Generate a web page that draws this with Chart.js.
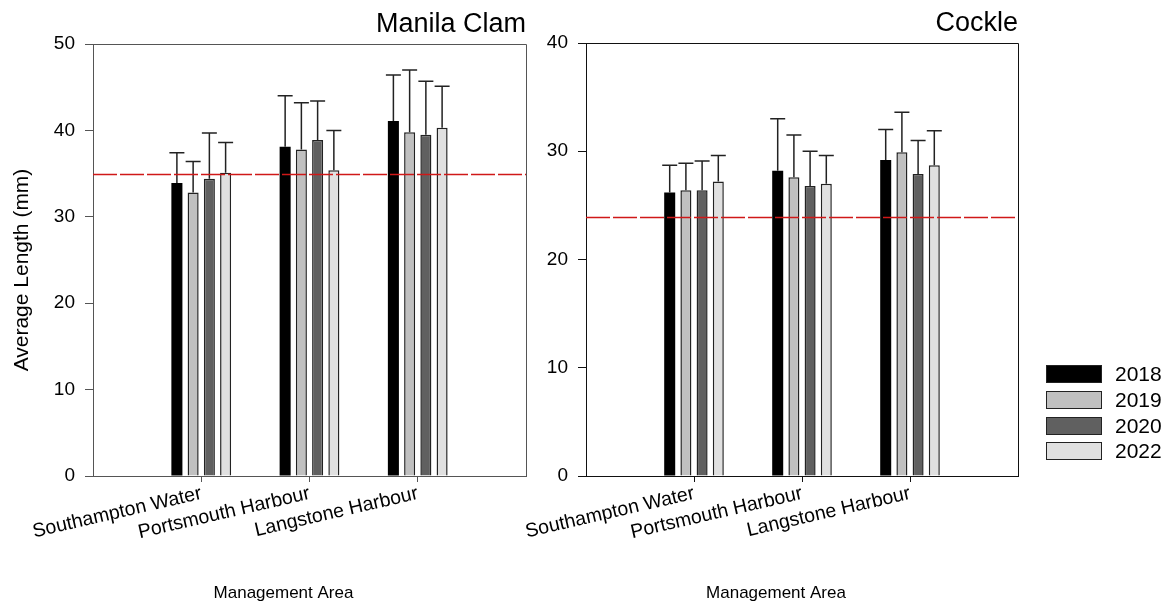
<!DOCTYPE html>
<html>
<head>
<meta charset="utf-8">
<title>Average Length by Management Area</title>
<script src="https://cdn.jsdelivr.net/npm/chart.js@4.4.1/dist/chart.umd.min.js"></script>
<style>
  html, body { margin: 0; padding: 0; background: #ffffff; }
  #wrap { position: relative; width: 1173px; height: 610px; overflow: hidden; background: #ffffff; }
  canvas { position: absolute; top: 0; }
  #clam { left: 0; }
  #cockle { left: 480px; }
</style>
</head>
<body>
<div id="wrap">
  <canvas id="clam" width="540" height="610"></canvas>
  <canvas id="cockle" width="693" height="610"></canvas>
</div>
<script>
// ---- data ----
const sites = ['Southampton Water', 'Portsmouth Harbour', 'Langstone Harbour'];
const years = ['2018', '2019', '2020', '2022'];
const yearFills = ['#000000', '#c0c0c0', '#606060', '#e0e0e0'];

// Manila clam: mean length (mm) and SD per site
const clam2018 = [33.9, 38.1, 41.1];
const clam2019 = [32.8, 37.8, 39.8];
const clam2020 = [34.4, 38.9, 39.5];
const clam2022 = [35.1, 35.4, 40.3];
const clamSd2018 = [3.5, 5.9, 5.3];
const clamSd2019 = [3.6, 5.4, 7.2];
const clamSd2020 = [5.3, 4.5, 6.2];
const clamSd2022 = [3.5, 4.6, 4.8];
const clamMinSize = 35;
const clamTicks = [0, 10, 20, 30, 40, 50];

// Cockle: mean length (mm) and SD per site
const cockle2018 = [26.2, 28.2, 29.2];
const cockle2019 = [26.4, 27.6, 29.9];
const cockle2020 = [26.4, 26.8, 27.9];
const cockle2022 = [27.2, 27.0, 28.7];
const cockleSd2018 = [2.5, 4.8, 2.8];
const cockleSd2019 = [2.5, 3.9, 3.7];
const cockleSd2020 = [2.7, 3.2, 3.1];
const cockleSd2022 = [2.4, 2.6, 3.2];
const cockleMinSize = 23.9;
const cockleTicks = [0, 10, 20, 30, 40];

// ---- drawing ----
const FONT = "'Liberation Sans', Arial, Helvetica, sans-serif";
Chart.defaults.font.family = FONT;
Chart.defaults.color = '#000';

// empty slots either side so the three sites sit at quarter points
const padded = arr => [null, ...arr, null];
const axisLabels = ['', ...sites, ''];

function makeChart(canvasId, cfg) {
  const datasets = years.map((yr, i) => ({
    label: yr,
    data: padded(cfg.means[i]),
    errors: padded(cfg.sds[i]),
    backgroundColor: yearFills[i],
    borderColor: '#222',
    borderWidth: i === 0 ? 0 : 1.5,
    categoryPercentage: 0.6,
    barPercentage: 0.68
  }));

  const overlays = {
    id: 'overlays',
    afterDatasetsDraw(chart) {
      const { ctx, chartArea } = chart;
      const ys = chart.scales.y;
      ctx.save();
      // error bars (upper only)
      ctx.strokeStyle = '#222';
      ctx.lineWidth = 1.5;
      chart.data.datasets.forEach((ds, i) => {
        const meta = chart.getDatasetMeta(i);
        meta.data.forEach((bar, j) => {
          const v = ds.data[j], e = ds.errors[j];
          if (v == null || e == null) return;
          const yTop = ys.getPixelForValue(v + e);
          ctx.beginPath();
          ctx.moveTo(bar.x, bar.y);
          ctx.lineTo(bar.x, yTop);
          ctx.moveTo(bar.x - 7.5, yTop);
          ctx.lineTo(bar.x + 7.5, yTop);
          ctx.stroke();
        });
      });
      // minimum landing size reference line
      const yRef = Math.round(ys.getPixelForValue(cfg.minSize)) + 0.5;
      ctx.strokeStyle = '#d01818';
      ctx.lineWidth = 1.5;
      ctx.setLineDash([24, 3]);
      ctx.beginPath();
      ctx.moveTo(chartArea.left, yRef);
      ctx.lineTo(chartArea.right, yRef);
      ctx.stroke();
      ctx.setLineDash([]);
      // top and right frame
      ctx.strokeStyle = cfg.axisColor;
      ctx.lineWidth = 1;
      ctx.beginPath();
      ctx.moveTo(Math.round(chartArea.left), Math.round(chartArea.top) + 0.5);
      ctx.lineTo(Math.round(chartArea.right) + 0.5, Math.round(chartArea.top) + 0.5);
      ctx.lineTo(Math.round(chartArea.right) + 0.5, Math.round(chartArea.bottom));
      ctx.stroke();
      ctx.restore();
    },
    afterDraw(chart) {
      const { ctx, chartArea } = chart;
      ctx.save();
      ctx.fillStyle = '#000';
      ctx.textBaseline = 'middle';
      // x axis title
      ctx.font = `17px ${FONT}`;
      ctx.textAlign = 'center';
      ctx.fillText('Management Area', (chartArea.left + chartArea.right) / 2 - 26, 593);
      // y axis title
      if (cfg.yTitle) {
        ctx.save();
        ctx.translate(22, (chartArea.top + chartArea.bottom) / 2 + 10);
        ctx.rotate(-Math.PI / 2);
        ctx.font = `21px ${FONT}`;
        ctx.fillText(cfg.yTitle, 0, 0);
        ctx.restore();
      }
      // year legend
      if (cfg.legend) {
        const x0 = chartArea.right + 28;
        const y0 = chartArea.top + 322;
        ctx.font = `21px ${FONT}`;
        ctx.textAlign = 'left';
        chart.data.datasets.forEach((ds, i) => {
          const y = Math.round(y0 + i * 25.8);
          ctx.fillStyle = ds.backgroundColor;
          ctx.fillRect(x0, y, 55, 18);
          ctx.strokeStyle = '#222';
          ctx.lineWidth = 1;
          ctx.strokeRect(x0 + 0.5, y + 0.5, 55, 17);
          ctx.fillStyle = '#000';
          ctx.fillText(ds.label, x0 + 69, y + 10);
        });
      }
      ctx.restore();
    }
  };

  return new Chart(document.getElementById(canvasId), {
    type: 'bar',
    data: { labels: axisLabels, datasets },
    options: {
      responsive: false,
      animation: false,
      devicePixelRatio: 1,
      layout: { padding: { top: cfg.padTop, right: cfg.padRight, bottom: 0, left: 0 } },
      plugins: {
        legend: { display: false },
        tooltip: { enabled: false },
        title: {
          display: true,
          text: cfg.title,
          align: 'end',
          fullSize: false,
          color: '#000',
          font: { size: 27, weight: 'normal', family: FONT },
          padding: { top: 0, bottom: 3 }
        }
      },
      scales: {
        x: {
          type: 'category',
          offset: false,
          grid: {
            offset: false,
            drawOnChartArea: false,
            tickLength: 6,
            tickColor: c => (c.tick && c.tick.label === '') ? 'rgba(0,0,0,0)' : cfg.axisColor
          },
          border: { display: true, color: cfg.axisColor, width: 1 },
          ticks: {
            autoSkip: false,
            minRotation: 13,
            maxRotation: 13,
            padding: 0,
            color: '#000',
            font: { size: 19.5, family: FONT }
          },
          afterFit(scale) { scale.height = 134; }
        },
        y: {
          min: cfg.ticks[0],
          max: cfg.ticks[cfg.ticks.length - 1],
          grid: { drawOnChartArea: false, tickLength: 8, color: cfg.axisColor },
          border: { display: true, color: cfg.axisColor, width: 1 },
          ticks: {
            stepSize: cfg.ticks[1] - cfg.ticks[0],
            padding: 10,
            color: '#000',
            font: { size: 19, family: FONT }
          },
          afterFit(scale) { scale.width = cfg.axisWidth; }
        }
      }
    },
    plugins: [overlays]
  });
}

makeChart('clam', {
  title: 'Manila Clam',
  means: [clam2018, clam2019, clam2020, clam2022],
  sds: [clamSd2018, clamSd2019, clamSd2020, clamSd2022],
  minSize: clamMinSize,
  ticks: clamTicks,
  yTitle: 'Average Length (mm)',
  axisColor: '#555',
  axisWidth: 93,
  padTop: 8.6,
  padRight: 14,
  legend: false
});

makeChart('cockle', {
  title: 'Cockle',
  means: [cockle2018, cockle2019, cockle2020, cockle2022],
  sds: [cockleSd2018, cockleSd2019, cockleSd2020, cockleSd2022],
  minSize: cockleMinSize,
  ticks: cockleTicks,
  yTitle: null,
  axisColor: '#111',
  axisWidth: 106,
  padTop: 7.6,
  padRight: 155,
  legend: true
});
</script>
</body>
</html>
